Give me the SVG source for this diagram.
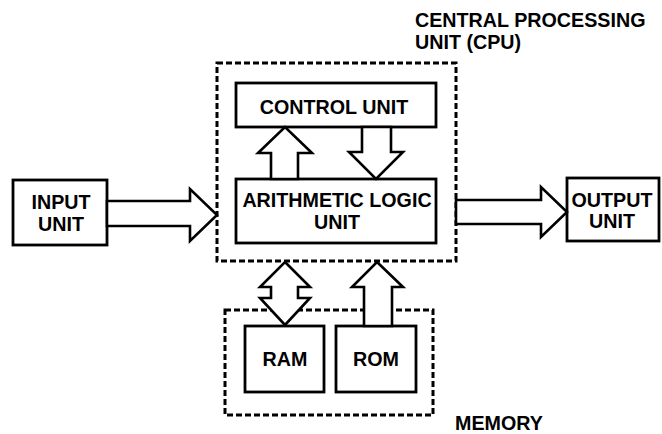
<svg xmlns="http://www.w3.org/2000/svg" width="662" height="434" viewBox="0 0 662 434">
<style>
.box{fill:#fff;stroke:#000;stroke-width:2.8}
.dash{fill:none;stroke:#000;stroke-width:3;stroke-dasharray:6 3}
.arr{fill:#fff;stroke:#000;stroke-width:2.6;stroke-linejoin:miter}
text{font-family:"Liberation Sans",Arial,sans-serif;font-weight:bold;font-size:19.7px;fill:#000}
.c{text-anchor:middle}
</style>
<rect width="662" height="434" fill="#fff"/>
<g id="cpu">
<rect class="dash" x="217" y="63" width="239" height="198"/>
<text x="415" y="27">CENTRAL PROCESSING</text>
<text x="415" y="49">UNIT (CPU)</text>
</g>
<g id="memory">
<rect class="dash" x="225" y="310" width="208" height="105"/>
<text x="455" y="430">MEMORY</text>
</g>
<g id="control-unit">
<rect class="box" x="236" y="83" width="200" height="44"/>
<text class="c" x="334" y="114">CONTROL UNIT</text>
</g>
<g id="alu">
<rect class="box" x="236" y="179" width="200" height="64"/>
<text class="c" x="337" y="207">ARITHMETIC LOGIC</text>
<text class="c" x="337" y="229">UNIT</text>
</g>
<g id="input-unit">
<rect class="box" x="13" y="180" width="94" height="65"/>
<text class="c" x="61" y="209">INPUT</text>
<text class="c" x="61" y="231">UNIT</text>
</g>
<g id="output-unit">
<rect class="box" x="567" y="178" width="92" height="63"/>
<text class="c" x="612" y="207">OUTPUT</text>
<text class="c" x="612" y="228">UNIT</text>
</g>
<g id="ram">
<rect class="box" x="245" y="326" width="79" height="66"/>
<text class="c" x="285" y="366">RAM</text>
</g>
<g id="rom">
<rect class="box" x="336" y="326" width="80" height="66"/>
<text class="c" x="376" y="366">ROM</text>
</g>
<g id="connectors">
<polygon class="arr" points="107,201 190,201 190,189 217,215 190,241 190,226 107,226"/>
<polygon class="arr" points="456,200 541,200 541,187 567,212 541,237 541,224 456,224"/>
<polygon class="arr" points="271,179 271,153 258,153 285,127 312,153 298,153 298,179"/>
<polygon class="arr" points="362,127 362,152 349,152 376,179 403,152 391,152 391,127"/>
<polygon class="arr" points="285,262 310,287 298,287 298,298 310,298 285,325 260,298 271,298 271,287 260,287"/>
<polygon class="arr" points="377,262 403,287 392,287 392,326 364,326 364,287 352,287"/>
</g>
</svg>
